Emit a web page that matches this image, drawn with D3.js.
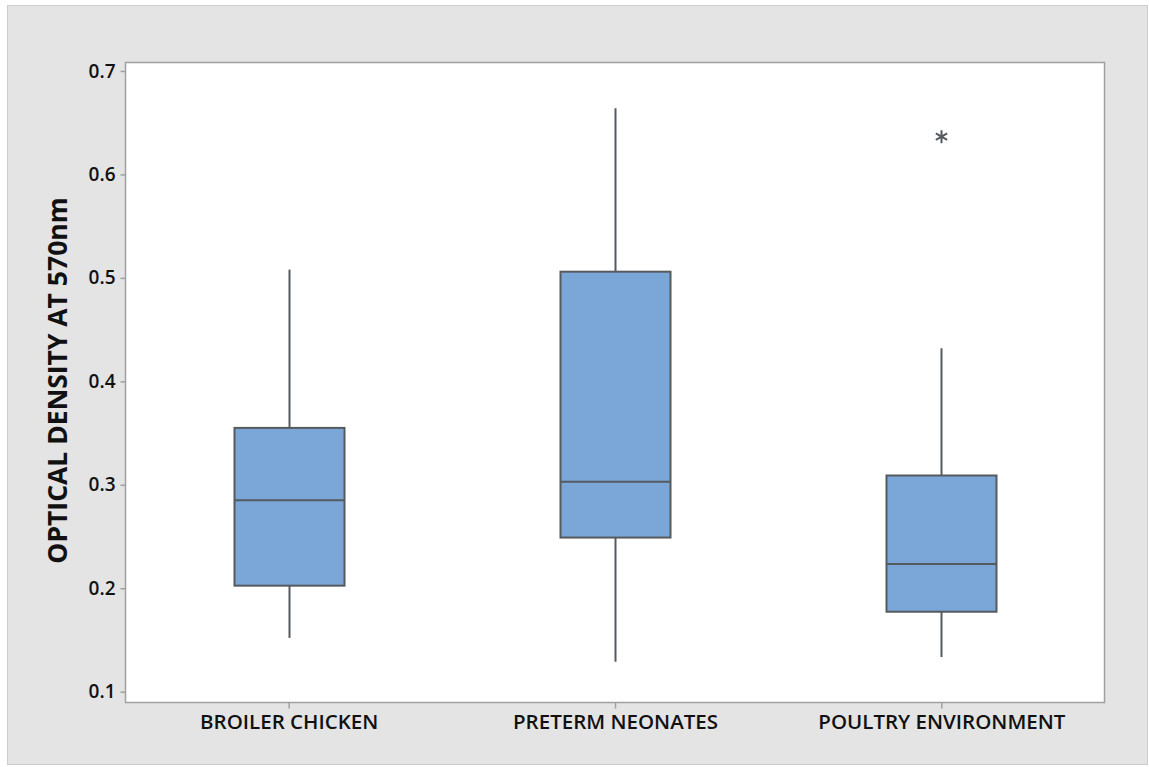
<!DOCTYPE html>
<html>
<head>
<meta charset="utf-8">
<script src="https://cdn.jsdelivr.net/npm/d3@7"></script>
<style>
  html, body { margin: 0; padding: 0; background: #ffffff; }
  svg { display: block; }
  text { font-family: "Open Sans", "Noto Sans", sans-serif; fill: #111; }
</style>
</head>
<body>
<svg id="chart" width="1149" height="767"></svg>
<script>
// Groups and five-number summaries (optical density at 570 nm)
const categories = ["BROILER CHICKEN", "PRETERM NEONATES", "POULTRY ENVIRONMENT"];
const whiskerLow  = [0.152, 0.129, 0.1335];
const q1          = [0.2025, 0.249, 0.1773];
const median      = [0.285, 0.303, 0.2234];
const q3          = [0.355, 0.506, 0.309];
const whiskerHigh = [0.508, 0.664, 0.432];
// Outliers: [group index, value]
const outliers = [[2, 0.6365]];
const yTicks = [0.1, 0.2, 0.3, 0.4, 0.5, 0.6, 0.7];

const svg = d3.select("#chart");
const W = 1149, H = 767;

// outer panel
svg.append("rect").attr("x", 0).attr("y", 0).attr("width", W).attr("height", H).attr("fill", "#ffffff");
svg.append("rect").attr("x", 7.5).attr("y", 5.5).attr("width", W - 9).attr("height", H - 8)
  .attr("fill", "#e4e4e4").attr("stroke", "#cdcdcd").attr("stroke-width", 1);

const plot = { left: 125.5, top: 62.5, right: 1104.5, bottom: 702.5 };

const y = d3.scaleLinear()
  .domain([0.1 - (702.5 - 691.7) / 1034.5, 0.7 + (71 - 62.5) / 1034.5])
  .range([plot.bottom, plot.top]);

const x = d3.scalePoint()
  .domain(categories)
  .range([plot.left, plot.right])
  .padding(0.5);

// plot area
svg.append("rect")
  .attr("x", plot.left).attr("y", plot.top)
  .attr("width", plot.right - plot.left).attr("height", plot.bottom - plot.top)
  .attr("fill", "#ffffff").attr("stroke", "#a0a0a0").attr("stroke-width", 1.5);

// y axis
const yAxis = d3.axisLeft(y).tickValues(yTicks).tickFormat(d3.format(".1f")).tickSize(5).tickPadding(5);
const gy = svg.append("g").attr("transform", `translate(${plot.left},0)`).call(yAxis);
gy.select(".domain").remove();
gy.selectAll(".tick line").attr("stroke", "#a0a0a0").attr("stroke-width", 1.5);
gy.selectAll(".tick text").attr("font-size", 19).attr("font-weight", 600).attr("fill", "#111");

// x axis
const xAxis = d3.axisBottom(x).tickSize(6).tickPadding(6);
const gx = svg.append("g").attr("transform", `translate(0,${plot.bottom})`).call(xAxis);
gx.select(".domain").remove();
gx.selectAll(".tick line").attr("stroke", "#a0a0a0").attr("stroke-width", 1.5);
gx.selectAll(".tick text").attr("font-size", 20.5).attr("font-weight", 600).attr("fill", "#111");

// y axis title
svg.append("text")
  .attr("transform", `translate(67,${(plot.top + plot.bottom) / 2 - 2}) rotate(-90)`)
  .attr("text-anchor", "middle")
  .attr("font-size", 26.5).attr("font-weight", 700)
  .text("OPTICAL DENSITY AT 570nm");

// boxes
const boxW = 110;
const g = svg.append("g");
const stroke = "#555a5e";
categories.forEach((c, i) => {
  const cx = Math.round(x(c)) + 0.5;
  // whiskers
  g.append("line").attr("x1", cx).attr("x2", cx).attr("y1", y(whiskerHigh[i])).attr("y2", y(q3[i]))
    .attr("stroke", stroke).attr("stroke-width", 2);
  g.append("line").attr("x1", cx).attr("x2", cx).attr("y1", y(q1[i])).attr("y2", y(whiskerLow[i]))
    .attr("stroke", stroke).attr("stroke-width", 2);
  // box
  g.append("rect")
    .attr("x", cx - boxW / 2).attr("y", y(q3[i]))
    .attr("width", boxW).attr("height", y(q1[i]) - y(q3[i]))
    .attr("fill", "#7ba7d8").attr("stroke", stroke).attr("stroke-width", 2);
  // median
  g.append("line").attr("x1", cx - boxW / 2).attr("x2", cx + boxW / 2)
    .attr("y1", y(median[i])).attr("y2", y(median[i]))
    .attr("stroke", stroke).attr("stroke-width", 2);
});

// outlier asterisks
outliers.forEach(([i, v]) => {
  const cx = Math.round(x(categories[i])) + 0.5;
  svg.append("path")
    .attr("d", d3.symbol(d3.symbolAsterisk, 120)())
    .attr("transform", `translate(${cx},${y(v)})`)
    .attr("fill", "none").attr("stroke", stroke).attr("stroke-width", 2);
});
</script>
</body>
</html>
